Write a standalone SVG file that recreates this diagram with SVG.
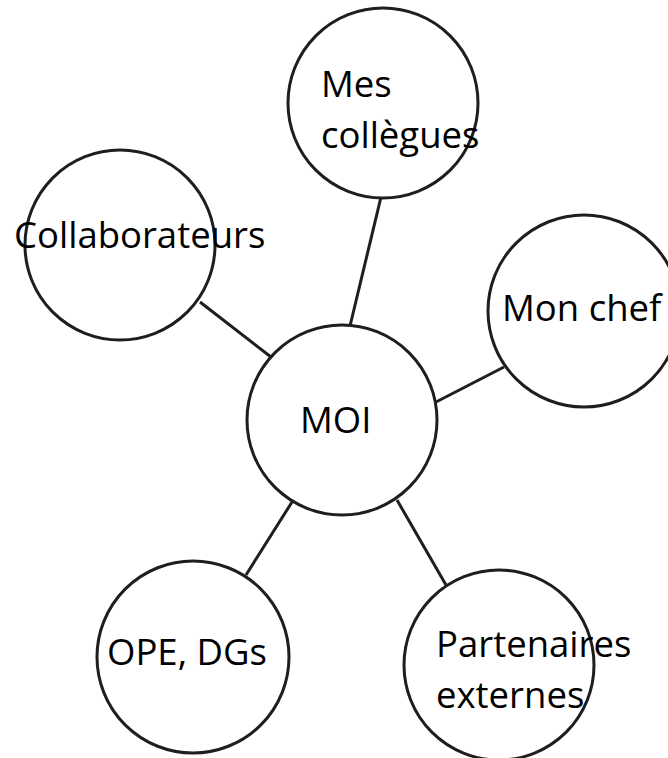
<svg xmlns="http://www.w3.org/2000/svg" width="668" height="758" viewBox="0 0 668 758">
  <style>
    .bubble { fill: #ffffff; stroke: #1e1e1e; stroke-width: 3; }
    .link { stroke: #1e1e1e; stroke-width: 3; fill: none; }
    .label { font-family: "Open Sans", "Noto Sans", sans-serif; font-size: 36.5px; fill: #000000; }
  </style>
  <rect width="668" height="758" fill="#ffffff"/>

  <!-- spokes from the centre bubble -->
  <g id="connectors">
    <line class="link" x1="350" y1="326" x2="381" y2="197"/>
    <line class="link" x1="200" y1="302" x2="271" y2="357"/>
    <line class="link" x1="436" y1="402" x2="504" y2="367"/>
    <line class="link" x1="292" y1="502" x2="246" y2="575"/>
    <line class="link" x1="397" y1="500" x2="446" y2="585"/>
  </g>

  <g id="node-moi">
    <circle class="bubble" cx="342" cy="420" r="95"/>
    <text class="label" x="300" y="433">MOI</text>
  </g>

  <g id="node-collegues">
    <circle class="bubble" cx="383" cy="103" r="95"/>
    <text class="label" x="321" y="97">Mes</text>
    <text class="label" x="321" y="148">collègues</text>
  </g>

  <g id="node-collaborateurs">
    <circle class="bubble" cx="120" cy="245" r="95"/>
    <text class="label" x="14" y="248">Collaborateurs</text>
  </g>

  <g id="node-chef">
    <circle class="bubble" cx="584" cy="311" r="96"/>
    <text class="label" x="502" y="321">Mon chef</text>
  </g>

  <g id="node-ope">
    <circle class="bubble" cx="193" cy="657" r="96"/>
    <text class="label" x="107" y="665">OPE, DGs</text>
  </g>

  <g id="node-partenaires">
    <circle class="bubble" cx="499" cy="665" r="95"/>
    <text class="label" x="436" y="657">Partenaires</text>
    <text class="label" x="436" y="708">externes</text>
  </g>
</svg>
